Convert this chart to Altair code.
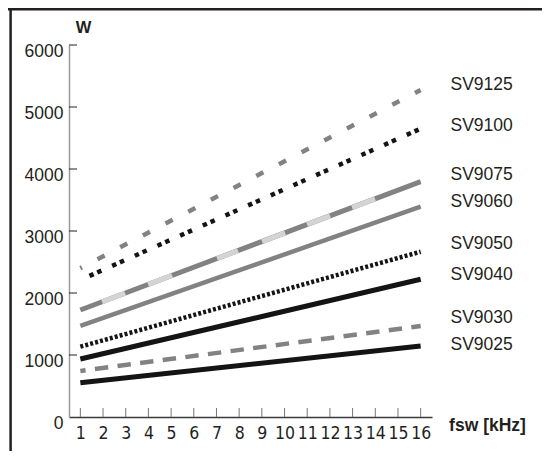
import altair as alt
import pandas as pd

# ---- data ----
series = ["SV9125", "SV9100", "SV9075", "SV9060", "SV9050", "SV9040", "SV9030", "SV9025"]
fsw_ends = [1, 16]
w_at_1 = [2400, 2210, 1726, 1468, 1134, 935, 742, 553]
w_at_16 = [5275, 4650, 3795, 3392, 2666, 2221, 1468, 1145]
label_w = [5355, 4694, 3903, 3473, 2790, 2290, 1597, 1161]
x_ticks = list(range(1, 17))
y_ticks = [0, 1000, 2000, 3000, 4000, 5000, 6000]

rows = []
for s, a, b in zip(series, w_at_1, w_at_16):
    rows.append({"series": s, "fsw": fsw_ends[0], "w": a})
    rows.append({"series": s, "fsw": fsw_ends[1], "w": b})
df = pd.DataFrame(rows)
lab = pd.DataFrame({"series": series, "w": label_w, "fsw": [16.5] * len(series)})
yt = pd.DataFrame({"w": y_ticks[1:]})
xt = pd.DataFrame({"fsw": x_ticks})
one = pd.DataFrame({"k": [0]})

INK = "#231f20"
GRAY = "#828282"
LIGHT = "#d4d4d4"

xs = alt.Scale(domain=[0.5, 16.5], nice=False, zero=False)
ys = alt.Scale(domain=[0, 6000], nice=False)

xaxis = alt.Axis(
    values=x_ticks, ticks=False, tickSize=0, grid=False, format="d",
    domainColor="#3a3a3a", domainWidth=1.5,
    labelFont="Liberation Sans Narrow, DejaVu Sans Condensed, Liberation Sans, sans-serif",
    labelFontSize=17.5, labelColor=INK, labelBaseline="middle",
    labelPadding=16.5, labelOverlap=False, labelFlush=False, labelBound=False,
    title="fsw [kHz]", titleFont="Liberation Sans", titleFontSize=17.5,
    titleFontWeight="bold", titleColor=INK, titleX=418, titleY=8,
    titleAlign="center", titleBaseline="middle",
)
yaxis = alt.Axis(
    values=y_ticks, ticks=False, tickSize=0, grid=False, format="d",
    domainColor="#9a9a9a", domainWidth=1.5,
    labelFont="Liberation Sans", labelFontSize=17.5, labelColor=INK,
    labelPadding=6, labelOffset=6.5, labelAlign="right", labelBaseline="middle",
    title="W", titleAngle=0, titleX=14, titleY=-18, titleAlign="center",
    titleBaseline="middle", titleFont="Liberation Sans", titleFontSize=16.5,
    titleFontWeight="bold", titleColor=INK,
)

X = alt.X("fsw:Q", scale=xs, axis=xaxis)
Y = alt.Y("w:Q", scale=ys, axis=yaxis)


def line(s, color, width, dash=None, offset=None):
    kw = dict(color=color, strokeWidth=width, strokeCap="butt")
    if dash is not None:
        kw["strokeDash"] = dash
    if offset is not None:
        kw["strokeDashOffset"] = offset
    return (alt.Chart(df).transform_filter(alt.datum.series == s)
            .mark_line(**kw).encode(x=X, y=Y))


layers = [
    line("SV9125", GRAY, 4.5, [8, 17.6], 6.2),
    line("SV9100", "#141414", 4.5, [4.5, 4, 4.5, 11.8], 14.8),
    line("SV9075", GRAY, 5),
    line("SV9075", LIGHT, 5, [0, 23.2, 24.6, 24.6, 25.6, 48.1, 22.4, 25.7,
                              24.6, 23.5, 24.6, 23.5, 24.6, 100]),
    line("SV9060", GRAY, 4.5),
    line("SV9050", "#141414", 4.5, [3, 2.1]),
    line("SV9040", "#141414", 5),
    line("SV9030", GRAY, 4.5, [13.4, 9.4], 8.1),
    line("SV9025", "#141414", 5),
]

ytick_rules = alt.Chart(yt).mark_rule(color=INK, strokeWidth=1).encode(
    y=Y, x=alt.value(0), x2=alt.value(8))
xtick_rules = alt.Chart(xt).mark_rule(color="#777777", strokeWidth=1).encode(
    x=X, y=alt.value(372), y2=alt.value(363))

labels = alt.Chart(lab).mark_text(
    align="left", baseline="middle", dx=18.5, font="Liberation Sans",
    fontSize=17.5, color=INK).encode(x=X, y=Y, text="series:N")

frame_left = alt.Chart(one).mark_rule(color=INK, strokeWidth=2.5).encode(
    x=alt.value(-58.4), y=alt.value(-37), y2=alt.value(406))
frame_top = alt.Chart(one).mark_rule(color=INK, strokeWidth=2.5).encode(
    y=alt.value(-35.8), x=alt.value(-61), x2=alt.value(473))

chart = alt.layer(
    frame_left, frame_top, ytick_rules, xtick_rules, *layers, labels
).properties(
    width=363, height=372,
    padding={"left": 61, "top": 37, "right": 110, "bottom": 34},
    autosize=alt.AutoSizeParams(type="none"),
    background="white",
).configure_view(stroke=None)

chart.save("out.html", embed_options={"renderer": "svg", "actions": False})
